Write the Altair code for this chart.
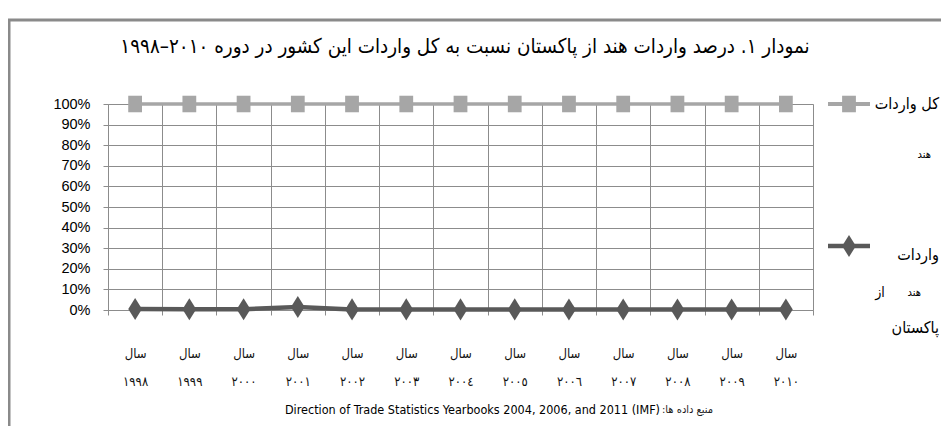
import altair as alt
import pandas as pd

# ---- data ----
years = ["1998", "1999", "2000", "2001", "2002", "2003", "2004",
         "2005", "2006", "2007", "2008", "2009", "2010"]
year_labels_fa = ["١٩٩٨", "١٩٩٩", "٢٠٠٠", "٢٠٠١", "٢٠٠٢", "٢٠٠٣", "٢٠٠٤",
                  "٢٠٠٥", "٢٠٠٦", "٢٠٠٧", "٢٠٠٨", "٢٠٠٩", "٢٠١٠"]
series_names = ["کل واردات هند", "واردات هند از پاکستان"]
total_share = [1.0, 1.0, 1.0, 1.0, 1.0, 1.0, 1.0, 1.0, 1.0, 1.0, 1.0, 1.0, 1.0]
pakistan_share = [0.005, 0.004, 0.004, 0.015, 0.003, 0.003, 0.003,
                  0.003, 0.002, 0.002, 0.002, 0.002, 0.002]
y_ticks = [0.0, 0.1, 0.2, 0.3, 0.4, 0.5, 0.6, 0.7, 0.8, 0.9, 1.0]
title_text = "نمودار ١. درصد واردات هند از پاکستان نسبت به کل واردات این کشور در دوره ٢٠١٠–١٩٩٨"
source_en = "Direction of Trade Statistics Yearbooks 2004, 2006, and 2011 (IMF)"
source_fa = ":منبع داده ها"
x_prefix = "سال"

rows = []
for name, vals in zip(series_names, [total_share, pakistan_share]):
    for y, lab, v in zip(years, year_labels_fa, vals):
        rows.append({"series": name, "year": y, "year_fa": lab, "value": v})
df = pd.DataFrame(rows)

# ---- styles ----
GRID = "#8c8c8c"
C_TOTAL = "#a6a6a6"
C_PAK = "#595959"
SQUARE = "M-1,-1.2L1,-1.2L1,1.2L-1,1.2Z"
DIAMOND = "M0,-1.6L1,0L0,1.6L-1,0Z"
FA_FONT = "DejaVu Sans Condensed, DejaVu Sans"
NUM_FONT = "Liberation Sans, Arial, sans-serif"
EN_FONT = "DejaVu Sans Condensed, DejaVu Sans"

x_enc = alt.X(
    "year_fa:N", sort=year_labels_fa,
    scale=alt.Scale(type="band", paddingInner=0, paddingOuter=0),
    axis=alt.Axis(
        title=None, tickBand="extent", grid=True, gridColor=GRID, gridWidth=1,
        labelExpr="datum.label ? ['" + x_prefix + "', datum.label] : ''",
        labelAngle=0,
        labelLineHeight=28, labelFont=FA_FONT, labelFontSize=13,
        labelColor="#111", tickSize=5, tickColor=GRID, domainColor=GRID,
        labelPadding=38, labelBaseline="middle",
    ),
)
y_enc = alt.Y(
    "value:Q", scale=alt.Scale(domain=[0, 1], nice=False, zero=True),
    axis=alt.Axis(
        title=None, values=y_ticks, format=".0%", grid=True, gridColor=GRID,
        gridWidth=1, tickSize=5, tickColor=GRID, domainColor=GRID,
        labelPadding=13, labelFont=NUM_FONT, labelFontSize=14.5,
        labelColor="#000",
    ),
)
color_enc = alt.Color("series:N", scale=alt.Scale(domain=series_names, range=[C_TOTAL, C_PAK]), legend=None)

base = alt.Chart(df)
lines = base.mark_line().encode(
    x=x_enc, y=y_enc, color=color_enc,
    strokeWidth=alt.StrokeWidth("series:N", scale=alt.Scale(domain=series_names, range=[3.5, 4.5]), legend=None),
)
points = base.mark_point(filled=True, opacity=1, size=190).encode(
    x=x_enc, y=y_enc, color=color_enc,
    shape=alt.Shape("series:N", scale=alt.Scale(domain=series_names, range=[SQUARE, DIAMOND]), legend=None),
)

one = alt.Data(values=[{}])

def txt(text, x, y, align="right", size=14, font=FA_FONT, color="#000", weight="normal"):
    return alt.Chart(one).mark_text(
        text=text, align=align, baseline="middle", fontSize=size, font=font,
        color=color, fontWeight=weight,
    ).encode(x=alt.value(x), y=alt.value(y))

border = alt.Chart(one).mark_rect(filled=False, stroke="#8a8a8a", strokeWidth=3).encode(
    x=alt.value(-99), y=alt.value(-84), x2=alt.value(900), y2=alt.value(420))

title = txt(title_text, 357, -57, align="center", size=20.4)

leg1_line = alt.Chart(one).mark_rule(color=C_TOTAL, strokeWidth=4).encode(
    x=alt.value(720), x2=alt.value(762), y=alt.value(0))
leg1_pt = alt.Chart(one).mark_point(shape=SQUARE, filled=True, opacity=1, size=190, color=C_TOTAL).encode(
    x=alt.value(741), y=alt.value(0))
leg2_line = alt.Chart(one).mark_rule(color=C_PAK, strokeWidth=4.5).encode(
    x=alt.value(720), x2=alt.value(762), y=alt.value(142))
leg2_pt = alt.Chart(one).mark_point(shape=DIAMOND, filled=True, opacity=1, size=190, color=C_PAK).encode(
    x=alt.value(741), y=alt.value(142))

leg_t1 = txt("کل واردات", 831, 0, size=16)
leg_t2 = txt("هند", 823, 51, size=11)
leg_t3 = txt("واردات", 831, 151, size=16)
leg_t4 = txt("هند", 813, 189, size=11)
leg_t5 = txt("از", 772, 189, align="center", size=14)
leg_t6 = txt("پاکستان", 831, 224, size=16)

src_en = txt(source_en, 552, 306, align="right", size=12.5, font=EN_FONT, color="#000")
src_fa = txt(source_fa, 554, 306, align="left", size=11, color="#222")

chart = alt.layer(
    border, lines, points, title,
    leg1_line, leg1_pt, leg2_line, leg2_pt,
    leg_t1, leg_t2, leg_t3, leg_t4, leg_t5, leg_t6,
    src_en, src_fa,
).properties(
    width=705, height=206,
    autosize=alt.AutoSizeParams(type="none"),
    padding={"left": 100, "top": 96, "right": 128, "bottom": 116},
).configure_view(stroke=GRID, strokeWidth=1).configure(background="white")

chart.save("out.html", embed_options={"renderer": "svg", "actions": False})
